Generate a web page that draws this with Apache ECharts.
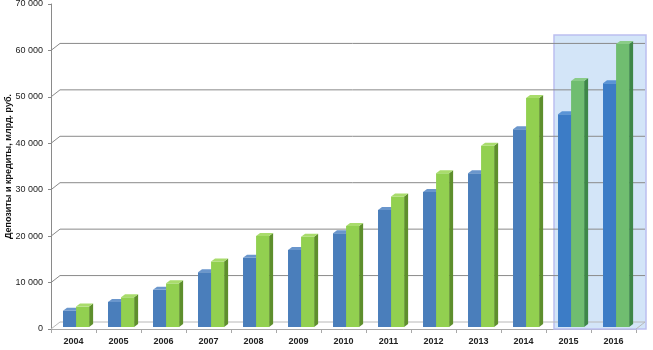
<!DOCTYPE html>
<html>
<head>
<meta charset="utf-8">
<script src="https://cdn.jsdelivr.net/npm/echarts@6/dist/echarts.min.js"></script>
<style>
  html, body { margin: 0; padding: 0; background: #ffffff; }
  #chart { width: 653px; height: 350px; }
</style>
</head>
<body>
<div id="chart"></div>
<script>
// Years on the category axis
const categories = ['2004', '2005', '2006', '2007', '2008', '2009', '2010',
                    '2011', '2012', '2013', '2014', '2015', '2016'];
// First series (blue), млрд. руб.
const deposits = [3500, 5400, 8000, 11800, 14900, 16600, 20200,
                  25200, 29100, 33100, 42600, 45800, 52500];
// Second series (green), млрд. руб.
const credits = [4400, 6400, 9400, 14100, 19600, 19450, 21750,
                 28100, 33100, 39050, 49300, 53000, 60950];
// Value-axis tick marks
const yTicks = [0, 10000, 20000, 30000, 40000, 50000, 60000, 70000];
// Highlighted (forecast) years and the height of the highlight panel
const highlightYears = ['2015', '2016'];
const highlightTop = 63300;

const axisName = 'Депозиты и кредиты, млрд. руб.';

// Depth offset of the back wall and of the bar side/top faces
const WALL_DX = 9, WALL_DY = -7;
const BAR_DX = 4, BAR_DY = 3;
const BAR_SINK = 2;

const hiFrom = categories.indexOf(highlightYears[0]);
const hiTo = categories.indexOf(highlightYears[highlightYears.length - 1]);
const isHi = i => i >= hiFrom && i <= hiTo;

const palettes = [
  { normal: { front: '#4a7ebb', top: '#6a96cc', side: '#2f5a90' },
    hi:     { front: '#3c7cc6', top: '#5a94d6', side: '#2a5c98' } },
  { normal: { front: '#92d050', top: '#a9dc6c', side: '#5e8f2c' },
    hi:     { front: '#70bd70', top: '#8acc88', side: '#3e8748' } }
];

function barRenderer(slot) {
  return function (params, api) {
    const i = api.value(0);
    const v = api.value(1);
    const base = api.coord([i, 0]);
    const top = api.coord([i, v]);
    const bw = api.size([1, 0])[0];
    const w = bw * 0.29;
    const x0 = base[0] - bw * 0.233 + slot * w;
    const yb = base[1] - BAR_SINK;
    const yt = top[1] - BAR_SINK;
    const pal = isHi(i) ? palettes[slot].hi : palettes[slot].normal;
    return {
      type: 'group',
      children: [
        { type: 'polygon',
          shape: { points: [[x0 + w, yt], [x0 + w + BAR_DX, yt - BAR_DY],
                            [x0 + w + BAR_DX, yb - BAR_DY], [x0 + w, yb]] },
          style: { fill: pal.side } },
        { type: 'rect',
          shape: { x: x0, y: yt, width: w, height: yb - yt },
          style: { fill: pal.front } },
        { type: 'polygon',
          shape: { points: [[x0, yt], [x0 + BAR_DX, yt - BAR_DY],
                            [x0 + w + BAR_DX, yt - BAR_DY], [x0 + w, yt]] },
          style: { fill: pal.top } }
      ]
    };
  };
}

// Back-wall gridlines with their diagonal connectors to the front axis
function wallRenderer(params, api) {
  const v = api.value(1);
  const cs = params.coordSys;
  const y = api.coord([0, v])[1];
  const left = cs.x, right = cs.x + cs.width;
  const isFloor = v === yTicks[0];
  const color = isFloor ? '#b8b8b8' : '#8a8a8a';
  const children = [
    { type: 'line',
      shape: { x1: left, y1: y, x2: left + WALL_DX, y2: y + WALL_DY },
      style: { stroke: color, lineWidth: 1 } },
    { type: 'line',
      shape: { x1: left + WALL_DX, y1: y + WALL_DY, x2: right + WALL_DX, y2: y + WALL_DY },
      style: { stroke: color, lineWidth: 1 } }
  ];
  if (isFloor) {
    children.push({ type: 'line',
      shape: { x1: right, y1: y, x2: right + WALL_DX, y2: y + WALL_DY },
      style: { stroke: color, lineWidth: 1 } });
  }
  return { type: 'group', children };
}

// Highlight panel over the forecast years
function highlightRenderer(params, api) {
  const bw = api.size([1, 0])[0];
  const l = api.coord([hiFrom, 0])[0] - bw / 2 + 8;
  const r = api.coord([hiTo, 0])[0] + bw / 2 + 10;
  const b = api.coord([hiFrom, 0])[1];
  const t = api.coord([hiFrom, api.value(1)])[1];
  return {
    type: 'rect',
    shape: { x: l, y: t, width: r - l, height: b - t },
    style: { fill: '#d3e5f8', stroke: '#bcbef0', lineWidth: 1.5 }
  };
}

const fmt = v => String(v).replace(/\B(?=(\d{3})+(?!\d))/g, '\u00a0');

const chart = echarts.init(document.getElementById('chart'), null, { renderer: 'canvas' });
chart.setOption({
  animation: false,
  backgroundColor: '#ffffff',
  textStyle: { fontFamily: '"Liberation Sans", Arial, sans-serif' },
  grid: { left: 51, right: 17, top: 4, bottom: 21, containLabel: false, outerBoundsMode: 'none' },
  xAxis: {
    type: 'category',
    data: categories,
    axisLine: { lineStyle: { color: '#a8a8a8', width: 1 } },
    axisTick: { show: true, length: 4, alignWithLabel: false, lineStyle: { color: '#a8a8a8' } },
    axisLabel: { color: '#222222', fontSize: 9, fontWeight: 'bold', margin: 8 },
    splitLine: { show: false }
  },
  yAxis: {
    type: 'value',
    min: yTicks[0],
    max: yTicks[yTicks.length - 1],
    interval: yTicks[1] - yTicks[0],
    name: axisName,
    nameLocation: 'middle',
    nameGap: 38,
    nameMoveOverlap: false,
    nameTextStyle: { color: '#111111', fontSize: 9, fontWeight: 'bold' },
    axisLine: { show: true, lineStyle: { color: '#8a8a8a', width: 1 } },
    axisTick: { show: true, length: 3, lineStyle: { color: '#8a8a8a' } },
    axisLabel: { color: '#222222', fontSize: 9, margin: 8, formatter: fmt },
    splitLine: { show: false }
  },
  series: [
    { type: 'custom', name: 'highlight', z: 1, silent: true,
      renderItem: highlightRenderer,
      data: [[hiFrom, highlightTop]] },
    { type: 'custom', name: 'wall', z: 2, silent: true,
      renderItem: wallRenderer,
      data: yTicks.slice(0, -1).map(v => [0, v]) },
    { type: 'custom', name: 'Депозиты', z: 3,
      renderItem: barRenderer(0),
      data: deposits.map((v, i) => [i, v]) },
    { type: 'custom', name: 'Кредиты', z: 4,
      renderItem: barRenderer(1),
      data: credits.map((v, i) => [i, v]) }
  ]
});
</script>
</body>
</html>
